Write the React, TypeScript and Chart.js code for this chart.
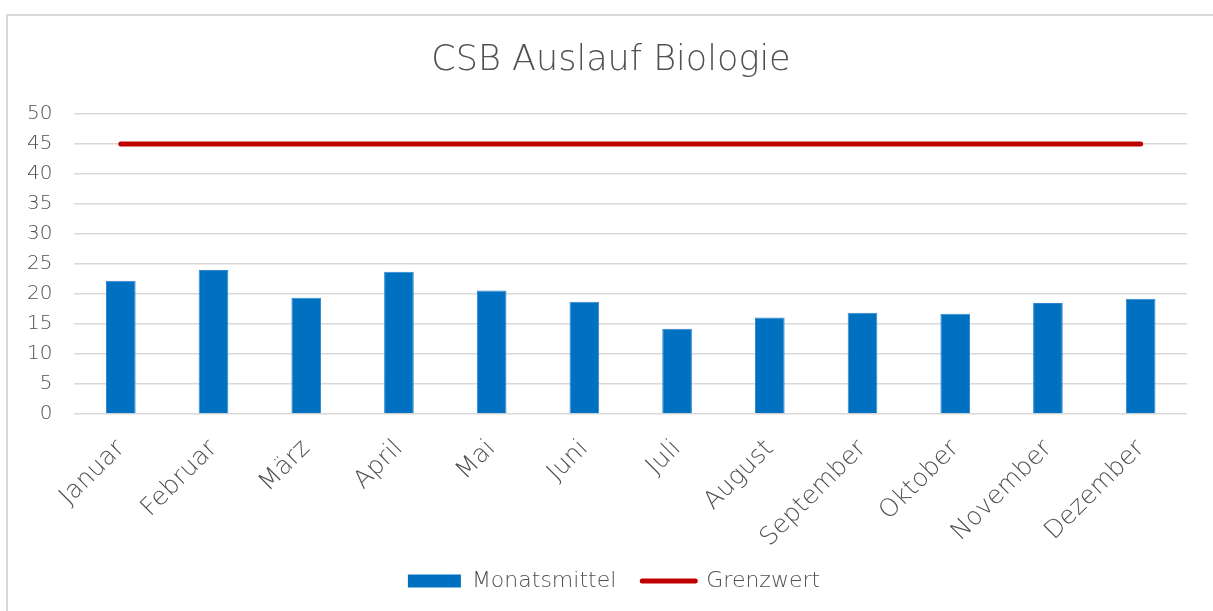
import React, { useEffect, useRef } from "react";
import { Chart, registerables } from "chart.js";

Chart.register(...registerables);

const categories = ["Januar", "Februar", "März", "April", "Mai", "Juni", "Juli", "August", "September", "Oktober", "November", "Dezember"];
const monatsmittel = [22.2, 24.0, 19.4, 23.7, 20.6, 18.7, 14.2, 16.1, 16.9, 16.7, 18.5, 19.2];
const grenzwert = [45, 45, 45, 45, 45, 45, 45, 45, 45, 45, 45, 45];
const titleText = "CSB Auslauf Biologie";

const FONT = "'DejaVu Sans', sans-serif";
const TEXT = "#505050";

const shiftPlugin = {
  id: "shiftBlocks",
  afterLayout(chart: any) {
    if (chart.titleBlock) {
      chart.titleBlock.left += 15;
      chart.titleBlock.right += 15;
    }
    if (chart.legend) {
      chart.legend.left += 18;
      chart.legend.right += 18;
      chart.legend.top -= 21;
      chart.legend.bottom -= 21;
    }
  },
};

export default function App() {
  const ref = useRef<HTMLCanvasElement | null>(null);
  useEffect(() => {
    if (!ref.current) return;
    const chart = new Chart(ref.current, {
      type: "bar",
      data: {
        labels: categories,
        datasets: [
          {
            type: "bar",
            label: "Monatsmittel",
            data: monatsmittel,
            backgroundColor: "#0070C0",
            borderColor: "#2E86D0",
            borderWidth: 1,
            barPercentage: 0.64,
            categoryPercentage: 0.5,
            order: 1,
          } as any,
          {
            type: "line",
            label: "Grenzwert",
            data: grenzwert,
            borderColor: "#C00000",
            backgroundColor: "#C00000",
            borderWidth: 5,
            borderCapStyle: "round",
            pointRadius: 0,
            order: 0,
          } as any,
        ],
      },
      plugins: [shiftPlugin],
      options: {
        animation: false,
        responsive: false,
        maintainAspectRatio: false,
        layout: { padding: { left: 5, right: 26, top: 0, bottom: -12 } },
        plugins: {
          title: {
            display: true,
            text: titleText,
            color: TEXT,
            font: { family: FONT, size: 35, weight: "300" },
            padding: { top: 40, bottom: 32 },
          },
          legend: {
            position: "bottom",
            labels: {
              color: TEXT,
              font: { family: FONT, size: 22, weight: "300" },
              usePointStyle: true,
              boxHeight: 13,
              pointStyleWidth: 53,
              padding: 26,
              generateLabels: () => [
                {
                  text: "Monatsmittel",
                  fillStyle: "#0070C0",
                  strokeStyle: "#0070C0",
                  lineWidth: 0,
                  pointStyle: "rect",
                  fontColor: TEXT,
                  datasetIndex: 0,
                  hidden: false,
                },
                {
                  text: "Grenzwert",
                  fillStyle: "#C00000",
                  strokeStyle: "#C00000",
                  lineWidth: 5,
                  lineCap: "round",
                  pointStyle: "line",
                  fontColor: TEXT,
                  datasetIndex: 1,
                  hidden: false,
                },
              ],
            },
          },
          tooltip: { enabled: false },
        },
        scales: {
          x: {
            grid: { display: false },
            border: { display: false },
            ticks: {
              color: TEXT,
              font: { family: FONT, size: 25, weight: "300" },
              minRotation: 45,
              maxRotation: 45,
              autoSkip: false,
              padding: 12,
            },
          },
          y: {
            min: 0,
            max: 50,
            grid: { color: "#D9D9D9", lineWidth: 1.5, drawTicks: false },
            border: { display: false },
            ticks: {
              stepSize: 5,
              color: TEXT,
              font: { family: FONT, size: 20, weight: "300" },
              padding: 22,
            },
          },
        },
      },
    });
    return () => chart.destroy();
  }, []);

  return (
    <div style={{ position: "fixed", left: 0, top: 0, width: 1213, height: 611, background: "#fff" }}>
      <div
        style={{
          position: "absolute",
          left: 6,
          top: 14,
          width: 1213,
          height: 611,
          borderLeft: "2px solid #D9D9D9",
          borderTop: "2px solid #D9D9D9",
        }}
      />
      <canvas ref={ref} width={1213} height={611} style={{ position: "absolute", left: 0, top: 0 }} />
    </div>
  );
}
